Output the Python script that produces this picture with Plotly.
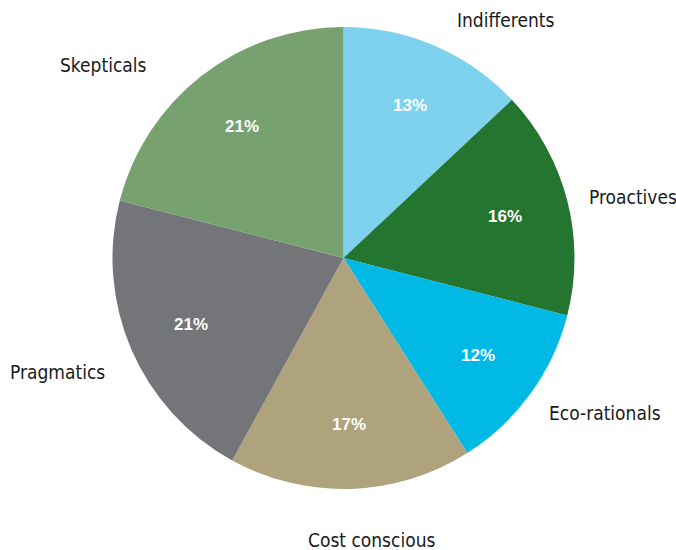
import math
import plotly.graph_objects as go

segments = ["Indifferents", "Proactives", "Eco-rationals", "Cost conscious", "Pragmatics", "Skepticals"]
shares = [13, 16, 12, 17, 21, 21]
colors = ["#7ED2EE", "#23752F", "#00B9E5", "#AEA37C", "#747579", "#77A26F"]

# label text centres (pixels in the 676x550 canvas)
label_pos = [(505, 20), (633, 197), (605, 413), (371, 540), (57, 372), (103, 65)]

W, H = 676, 550
cx, cy, R = 343.5, 258, 231
dom = dict(x=[(cx - R) / W, (cx + R) / W], y=[1 - (cy + R) / H, 1 - (cy - R) / H])

fig = go.Figure()
fig.add_trace(go.Pie(
    labels=segments, values=shares, sort=False, direction="clockwise", rotation=0,
    marker=dict(colors=colors, line=dict(width=0)),
    textinfo="none", hoverinfo="label+percent", domain=dom, showlegend=False,
))

annotations = []
total = sum(shares)
cum = 0
for name, v in zip(segments, shares):
    mid = (cum + v / 2) / total * 2 * math.pi
    cum += v
    px = cx + 0.72 * R * math.sin(mid)
    py = cy - 0.72 * R * math.cos(mid)
    annotations.append(dict(x=px / W, y=1 - py / H, xref="paper", yref="paper",
                            xanchor="center", yanchor="middle",
                            text=f"<b>{v}%</b>", showarrow=False,
                            font=dict(family="Liberation Sans, Arial", size=17, color="white")))
for name, (lx, ly) in zip(segments, label_pos):
    annotations.append(dict(x=lx / W, y=1 - ly / H, xref="paper", yref="paper",
                            text=name, showarrow=False, xanchor="center", yanchor="middle",
                            font=dict(family="Liberation Sans Narrow, DejaVu Sans Condensed, Arial Narrow",
                                      size=19, color="#1a1a1a")))

fig.update_layout(width=W, height=H, margin=dict(l=0, r=0, t=0, b=0),
                  paper_bgcolor="white", plot_bgcolor="white", annotations=annotations)
fig.write_html("out.html", config={"displayModeBar": False},
               post_script="document.body.style.margin='0px';document.body.style.overflow='hidden';")
